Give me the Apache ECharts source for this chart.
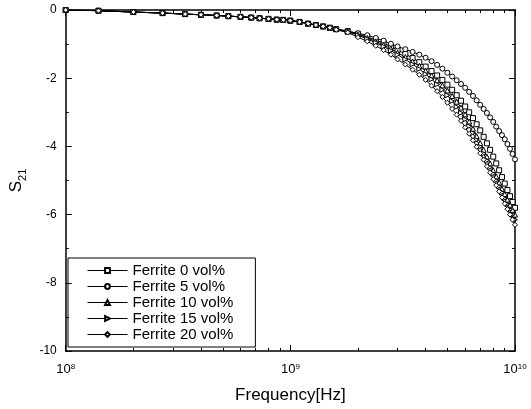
<!DOCTYPE html>
<html><head><meta charset="utf-8">
<script src="https://cdn.jsdelivr.net/npm/echarts@6/dist/echarts.min.js"></script>
<style>html,body{margin:0;padding:0;background:#fff}#c{width:531px;height:409px}</style>
</head><body><div id="c"></div>
<script>
// Frequency points in GHz
const freqGHz = [0.1,0.14,0.2,0.27,0.34,0.4,0.47,0.53,0.6,0.67,0.73,0.8,0.87,0.93,1.0,1.1,1.2,1.3,1.4,1.5,1.6,1.8,2.0,2.2,2.4,2.6,2.8,3.0,3.25,3.5,3.75,4.0,4.25,4.5,4.75,5.0,5.25,5.5,5.75,6.0,6.25,6.5,6.75,7.0,7.25,7.5,7.75,8.0,8.25,8.5,8.75,9.0,9.25,9.5,9.75,10.0];
const seriesNames = ['Ferrite 0 vol%','Ferrite 5 vol%','Ferrite 10 vol%','Ferrite 15 vol%','Ferrite 20 vol%'];
const ferrite0 = [0.00,-0.02,-0.06,-0.09,-0.12,-0.14,-0.16,-0.18,-0.20,-0.22,-0.24,-0.26,-0.28,-0.29,-0.31,-0.35,-0.40,-0.44,-0.48,-0.52,-0.56,-0.62,-0.70,-0.79,-0.88,-0.97,-1.07,-1.17,-1.29,-1.41,-1.53,-1.66,-1.79,-1.92,-2.05,-2.19,-2.34,-2.50,-2.66,-2.83,-3.00,-3.17,-3.35,-3.53,-3.72,-3.91,-4.10,-4.30,-4.50,-4.70,-4.90,-5.09,-5.28,-5.46,-5.63,-5.80];
const ferrite5 = [0.00,-0.02,-0.06,-0.09,-0.12,-0.14,-0.16,-0.18,-0.20,-0.22,-0.24,-0.26,-0.28,-0.29,-0.31,-0.35,-0.40,-0.44,-0.48,-0.52,-0.56,-0.62,-0.68,-0.74,-0.82,-0.90,-0.99,-1.07,-1.15,-1.23,-1.31,-1.40,-1.50,-1.61,-1.72,-1.84,-1.95,-2.06,-2.17,-2.28,-2.40,-2.52,-2.65,-2.78,-2.90,-3.02,-3.15,-3.28,-3.42,-3.55,-3.67,-3.79,-3.93,-4.07,-4.22,-4.38];
const ferrite10 = [0.00,-0.02,-0.06,-0.09,-0.12,-0.14,-0.16,-0.18,-0.20,-0.22,-0.24,-0.26,-0.28,-0.29,-0.31,-0.35,-0.40,-0.44,-0.48,-0.52,-0.56,-0.63,-0.72,-0.82,-0.92,-1.02,-1.13,-1.25,-1.38,-1.51,-1.64,-1.78,-1.92,-2.06,-2.21,-2.36,-2.52,-2.69,-2.86,-3.06,-3.27,-3.48,-3.70,-3.90,-4.10,-4.30,-4.50,-4.70,-4.88,-5.06,-5.24,-5.40,-5.56,-5.71,-5.86,-6.00];
const ferrite15 = [0.00,-0.02,-0.06,-0.09,-0.12,-0.14,-0.16,-0.18,-0.20,-0.22,-0.24,-0.26,-0.28,-0.29,-0.31,-0.35,-0.40,-0.44,-0.48,-0.52,-0.57,-0.64,-0.74,-0.85,-0.96,-1.07,-1.19,-1.31,-1.45,-1.59,-1.73,-1.88,-2.03,-2.18,-2.34,-2.50,-2.67,-2.84,-3.02,-3.21,-3.41,-3.61,-3.81,-4.01,-4.21,-4.41,-4.61,-4.80,-4.99,-5.17,-5.35,-5.52,-5.69,-5.85,-6.00,-6.15];
const ferrite20 = [0.00,-0.02,-0.06,-0.09,-0.12,-0.14,-0.16,-0.18,-0.20,-0.22,-0.24,-0.26,-0.28,-0.29,-0.31,-0.35,-0.40,-0.44,-0.48,-0.52,-0.58,-0.66,-0.80,-0.92,-1.05,-1.18,-1.31,-1.45,-1.60,-1.75,-1.90,-2.05,-2.22,-2.38,-2.55,-2.72,-2.90,-3.07,-3.25,-3.44,-3.63,-3.82,-4.01,-4.20,-4.39,-4.58,-4.77,-4.96,-5.14,-5.32,-5.50,-5.68,-5.84,-6.00,-6.15,-6.30];
const seriesValues = [ferrite0, ferrite5, ferrite10, ferrite15, ferrite20];
const symbols = ['rect','circle','triangle','triangle','diamond'];
const symbolRotates = [0,0,0,-90,0];
const yTicks = [0,-2,-4,-6,-8,-10];

const FONT = '"Liberation Sans", Arial, sans-serif';
const chart = echarts.init(document.getElementById('c'), null, {renderer:'canvas'});

const series = seriesNames.map((name,i)=>({
  name, type:'line',
  xAxisIndex:0, yAxisIndex:0,
  data: freqGHz.map((f,j)=>[f*1e9, seriesValues[i][j]]),
  symbol: symbols[i], symbolRotate: symbolRotates[i], symbolSize: 5,
  showAllSymbol: true,
  lineStyle:{color:'#000', width:1},
  itemStyle:{color:'#fff', borderColor:'#000', borderWidth:1},
  emphasis:{disabled:true},
  animation:false
}));

const tickCommon = {show:true, inside:true, length:6, lineStyle:{color:'#000', width:1}};
const minorCommon = {show:true, length:3, lineStyle:{color:'#000', width:1}};

chart.setOption({
  backgroundColor:'#fff',
  animation:false,
  grid:{left:63, right:16, top:10, bottom:58},
  legend:{
    orient:'vertical', left:68, top:258,
    data: seriesNames,
    borderColor:'#000', borderWidth:1, borderRadius:0,
    padding:[5,22,5,19],
    itemWidth:40, itemHeight:6, itemGap:1,
    lineStyle:{width:1},
    textStyle:{fontFamily:FONT, fontSize:15, lineHeight:14, color:'#000'},
    selectedMode:false
  },
  xAxis:[{
    type:'log', logBase:10, min:1e8, max:1e10,
    position:'bottom',
    axisLine:{show:true, onZero:false, lineStyle:{color:'#000', width:1.5}},
    axisTick:tickCommon,
    minorTick:Object.assign({splitNumber:9}, minorCommon),
    splitLine:{show:false},
    axisLabel:{
      margin:12,
      formatter:v=>'{b|10}{s|'+Math.round(Math.log10(v))+'}',
      rich:{
        b:{fontFamily:FONT, fontSize:13, color:'#000'},
        s:{fontFamily:FONT, fontSize:8, color:'#000', verticalAlign:'top'}
      }
    },
    name:'Frequency[Hz]', nameLocation:'middle', nameGap:36,
    nameTextStyle:{fontFamily:FONT, fontSize:17, color:'#000'}
  },{
    type:'log', logBase:10, min:1e8, max:1e10,
    position:'top',
    axisLine:{show:true, onZero:false, lineStyle:{color:'#000', width:1.5}},
    axisTick:tickCommon,
    minorTick:Object.assign({splitNumber:9}, minorCommon),
    splitLine:{show:false},
    axisLabel:{show:false}
  }],
  yAxis:[{
    type:'value', min:-10, max:0, interval:2,
    position:'left',
    axisLine:{show:true, onZero:false, lineStyle:{color:'#000', width:1.5}},
    axisTick:tickCommon,
    minorTick:Object.assign({splitNumber:2}, minorCommon),
    splitLine:{show:false},
    axisLabel:{margin:9, fontFamily:FONT, fontSize:12, color:'#000',
      formatter:v=>yTicks.includes(v)?String(v):''},
    name:'{a|S}{b|21}', nameLocation:'middle', nameGap:31, nameRotate:90,
    nameTextStyle:{rich:{
      a:{fontFamily:FONT, fontSize:17, color:'#000', lineHeight:24, verticalAlign:'middle'},
      b:{fontFamily:FONT, fontSize:11, color:'#000', lineHeight:11, verticalAlign:'bottom'}
    }}
  },{
    type:'value', min:-10, max:0, interval:2,
    position:'right',
    axisLine:{show:true, onZero:false, lineStyle:{color:'#000', width:1.5}},
    axisTick:tickCommon,
    minorTick:Object.assign({splitNumber:2}, minorCommon),
    splitLine:{show:false},
    axisLabel:{show:false}
  }],
  series
});
</script></body></html>
